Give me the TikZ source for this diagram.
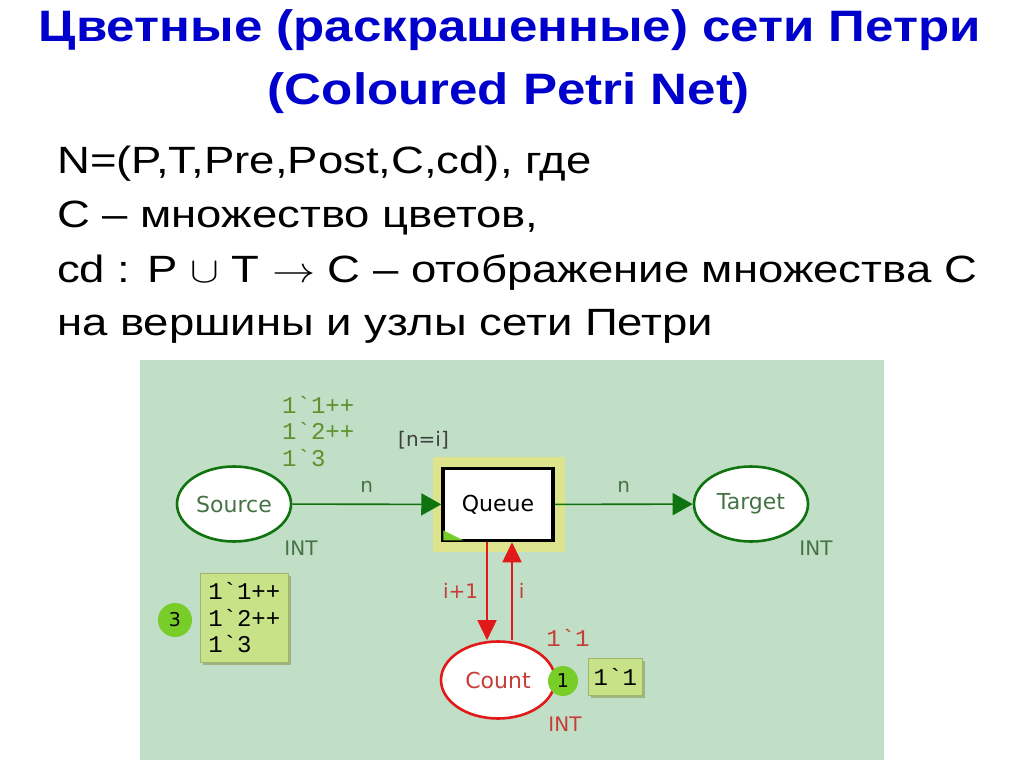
\documentclass[tikz,border=0pt]{standalone}
\usepackage{graphicx}
\usepackage{fontspec}
\setmainfont{Liberation Sans}
\newfontfamily\dejavu{DejaVu Sans}
\newfontfamily\mono{Liberation Mono}
\usetikzlibrary{arrows.meta,shapes.geometric}
\definecolor{titleblue}{RGB}{0,0,204}
\definecolor{bg}{RGB}{193,222,198}
\definecolor{dgreen}{RGB}{15,115,15}
\definecolor{lblgreen}{RGB}{70,115,70}
\definecolor{mkgreen}{RGB}{95,145,45}
\definecolor{pred}{RGB}{225,25,25}
\definecolor{lblred}{RGB}{200,60,55}
\definecolor{hilite}{RGB}{222,228,140}
\definecolor{tokgreen}{RGB}{120,205,40}
\definecolor{boxgreen}{RGB}{200,226,135}
\definecolor{shadow}{RGB}{160,180,130}
\newcommand{\wideT}[1]{\scalebox{1.16}[1]{#1}}
\newcommand{\wideB}[1]{\scalebox{1.197}[1]{#1}}
\newcommand{\bigsym}[1]{{\fontsize{10}{12}\selectfont\scalebox{3.6}[3.6]{$#1$}}}
\tikzset{
  titletxt/.style={anchor=base, text=titleblue, inner sep=0, font=\fontsize{44}{50}\selectfont\bfseries},
  bodytxt/.style={anchor=base west, font=\fontsize{38}{44}\selectfont, inner sep=0},
  place/.style={ellipse, draw=#1, line width=2.6pt, fill=white, minimum width=114pt, minimum height=75pt, inner sep=0, font=\dejavu\fontsize{22}{24}\selectfont},
  trans/.style={rectangle, draw=black, line width=3.5pt, fill=white, minimum width=110pt, minimum height=72pt, inner sep=0, font=\dejavu\fontsize{22}{24}\selectfont},
  garc/.style={draw=dgreen, line width=1.6pt, -{Triangle[length=20pt,width=22pt]}, fill=dgreen},
  rarc/.style={draw=pred, line width=1.6pt, -{Triangle[length=20pt,width=19pt]}, fill=pred},
  lbl/.style={font=\dejavu\fontsize{20}{22}\selectfont, inner sep=0},
  monolbl/.style={font=\mono\fontsize{24}{26.5}\selectfont, align=left, inner sep=0},
  token/.style={circle, fill=tokgreen, minimum size=#1, inner sep=0, font=\dejavu\fontsize{19}{20}\selectfont},
  markbox/.style={rectangle, fill=boxgreen, draw=boxgreen!80!black, line width=0.6pt, inner xsep=5pt, inner ysep=4pt, font=\mono\fontsize{24}{26.5}\selectfont, align=left},
}
\begin{document}
\begin{tikzpicture}[x=1pt,y=-1pt]
\useasboundingbox (0,0) rectangle (1024,767);
\fill[white] (0,0) rectangle (1024,767);
% titles
\node[titletxt] (t1) at (510,42) {\wideT{Цветные (раскрашенные) сети Петри}};
\node[titletxt] (t2) at (509,105) {\wideT{(Coloured Petri Net)}};
% body
\node[bodytxt] (b1) at (57,174) {\wideB{N=(P,T,Pre,Post,C,cd), где}};
\node[bodytxt] (b2) at (57,228) {\wideB{C – множество цветов,}};
\node[bodytxt] (b3) at (57,282) {\wideB{cd : P \bigsym{\cup} T \bigsym{\rightarrow} C – отображение множества C}};
\node[bodytxt] (b4) at (57,335) {\wideB{на вершины и узлы сети Петри}};
% diagram background
\fill[bg] (140,360) rectangle (884,760);
% Queue highlight
\fill[hilite] (433,457) rectangle (565,552);
% nodes
\node[place=dgreen, text=lblgreen] (src) at (234,504) {Source};
\node[place=dgreen, text=lblgreen] (tgt) at (751,504) {Target};
\node[trans] (queue) at (498,504.5) {Queue};
\fill[tokgreen] ([shift={(2,-2)}]queue.south west) -- ++(20,0) -- ++(-20,-10) -- cycle;
\node[place=pred, text=lblred, minimum height=77pt] (count) at (498,680) {Count};
% arcs
\draw[garc] (src) -- node[lbl, text=lblgreen, above=11pt] {n} (queue);
\draw[garc] (queue) -- node[lbl, text=lblgreen, above=11pt] {n} (tgt);
\draw[rarc] ([xshift=-11pt]queue.south) -- node[lbl, text=lblred, left=8pt, pos=0.5] {i+1} ([xshift=-11pt]count.north);
\draw[rarc] ([xshift=14pt]count.north) -- node[lbl, text=lblred, right=6pt, pos=0.5] {i} ([xshift=14pt]queue.south);
% inscriptions
\node[monolbl, text=mkgreen, anchor=north west] (srcinit) at (282,396) {1`1++\\1`2++\\1`3};
\node[lbl, text=black!75, anchor=west] (guard) at (398,440) {[n=i]};
\node[lbl, text=lblgreen] (srcint) at (301,548) {INT};
\node[lbl, text=lblgreen] (tgtint) at (816,548) {INT};
\node[lbl, text=lblred] (cntint) at (565,724) {INT};
\node[monolbl, text=lblred] (cntinit) at (568,638) {1`1};
% markings
\fill[shadow] (203,576) rectangle (291,665);
\node[markbox, anchor=north west, minimum width=88pt, minimum height=89pt] (srcmark) at (200,573) {1`1++\\1`2++\\1`3};
\node[token=34pt] (srctok) at (175,620) {3};
\fill[shadow] (591,661) rectangle (645,698);
\node[markbox, anchor=north west, minimum width=54pt, minimum height=37pt] (cntmark) at (588,658) {1`1};
\node[token=30pt] (cnttok) at (563,681) {1};
\end{tikzpicture}
\end{document}
